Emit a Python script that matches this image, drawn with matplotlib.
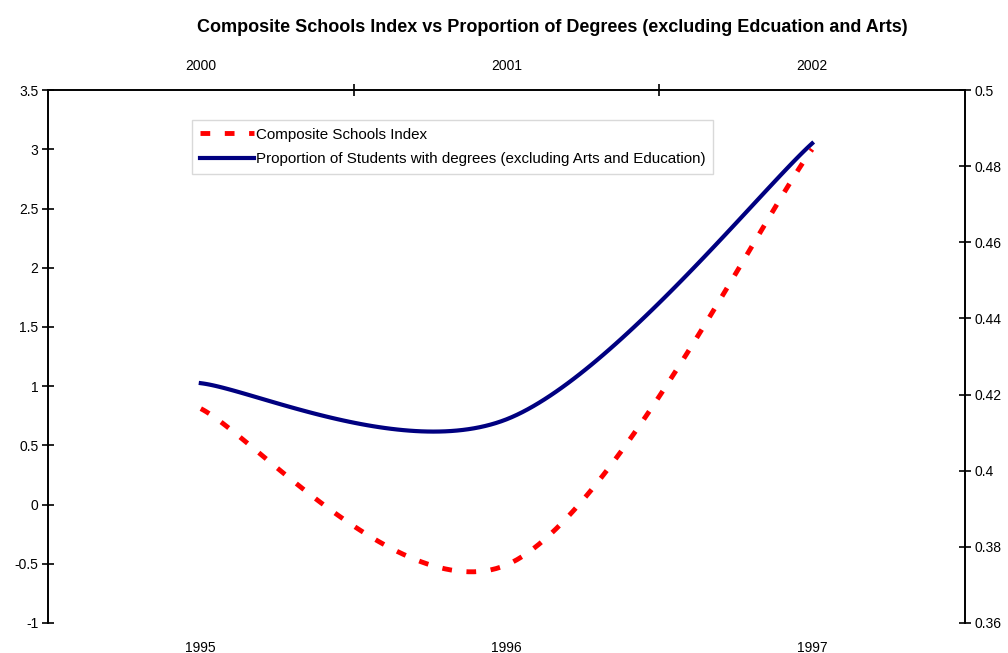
import numpy as np
import matplotlib
matplotlib.use("Agg")
import matplotlib.pyplot as plt

plt.rcParams['font.family'] = ['Liberation Sans', 'DejaVu Sans']

years_bottom = ["1995", "1996", "1997"]
years_top = ["2000", "2001", "2002"]
schools_index = [0.81, -0.51, 3.0]
prop_degrees = [0.423, 0.4135, 0.486]


def excel_smooth(ys, n=60):
    # bezier smoothing like excel's "smoothed line"
    xs = np.arange(len(ys), dtype=float)
    pts = np.column_stack([xs, np.array(ys, dtype=float)])
    out = []
    for i in range(len(pts) - 1):
        p0 = pts[max(i - 1, 0)]
        p1 = pts[i]
        p2 = pts[i + 1]
        p3 = pts[min(i + 2, len(pts) - 1)]
        c1 = p1 + (p2 - p0) / 6
        c2 = p2 - (p3 - p1) / 6
        t = np.linspace(0, 1, n)[:, None]
        seg = ((1 - t) ** 3) * p1 + 3 * ((1 - t) ** 2) * t * c1 + 3 * (1 - t) * t ** 2 * c2 + t ** 3 * p2
        out.append(seg)
    seg = np.vstack(out)
    return seg[:, 0], seg[:, 1]


fig = plt.figure(figsize=(10.08, 6.53), dpi=100)
ax = fig.add_axes([0.0476, 0.046, 0.9097, 0.816])
ax2 = ax.twinx()

x1, y1 = excel_smooth(schools_index)
x2, y2 = excel_smooth(prop_degrees)

l1, = ax.plot(x1, y1, color="#ff0000", lw=3.5, ls=(0, (2, 3)), label="Composite Schools Index")
l2, = ax2.plot(x2, y2, color="#000080", lw=3, label="Proportion of Students with degrees (excluding Arts and Education)")

ax.set_xlim(-0.5, 2.5)
ax.set_ylim(-1, 3.5)
ax2.set_ylim(0.36, 0.5)
ax.set_yticks(np.arange(-1, 3.51, 0.5))
ax.set_yticklabels([f"{v:g}" for v in np.arange(-1, 3.51, 0.5)])
ax2.set_yticks(np.arange(0.36, 0.501, 0.02))
ax2.set_yticklabels([f"{v:.2f}".rstrip("0").rstrip(".") for v in np.arange(0.36, 0.501, 0.02)])

for a in (ax, ax2):
    a.spines['bottom'].set_visible(False)
    a.spines['top'].set_visible(True)
    for s in a.spines.values():
        s.set_linewidth(1.2)

ax.set_xticks([0, 1, 2])
ax.set_xticklabels(years_bottom)
ax.tick_params(axis='x', length=0, labelsize=10, pad=13)
ax.tick_params(axis='y', direction='inout', length=8, width=1.2, labelsize=10, pad=3)
ax2.tick_params(axis='y', direction='inout', length=8, width=1.2, labelsize=10, pad=3)

top = ax.secondary_xaxis('top')
top.set_xticks([0, 1, 2])
top.set_xticklabels(years_top)
top.set_xticks([0.5, 1.5], minor=True)
top.tick_params(axis='x', which='major', length=0, labelsize=10, pad=12)
top.tick_params(axis='x', which='minor', direction='inout', length=8, width=1.2)
top.spines['top'].set_visible(False)

leg = ax.legend(handles=[l1, l2], loc='upper left', bbox_to_anchor=(0.157, 0.944),
                borderaxespad=0, fontsize=10.9, frameon=True, fancybox=False,
                edgecolor="#d0d0d0", handlelength=3.6, handletextpad=0.1,
                borderpad=0.5, labelspacing=0.7)
leg.get_frame().set_linewidth(1.0)

fig.text(0.548, 0.958, "Composite Schools Index vs Proportion of Degrees (excluding Edcuation and Arts)",
         ha='center', va='center', fontsize=13, fontweight='bold')

fig.savefig("out.png", dpi=100)
